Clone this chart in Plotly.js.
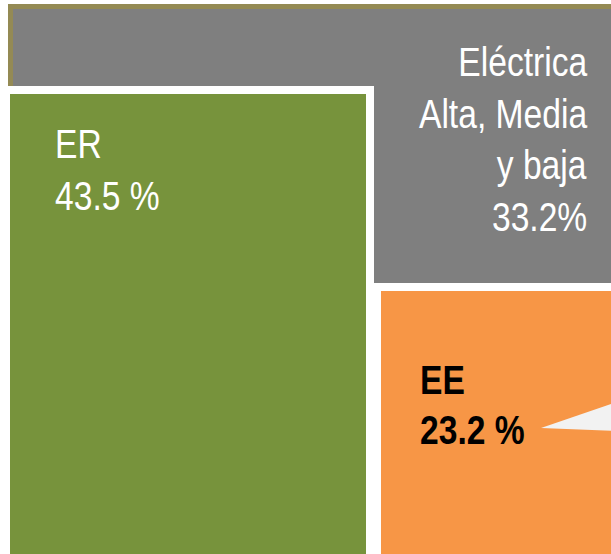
<!DOCTYPE html>
<html>
<head>
<meta charset="utf-8">
<script src="https://cdn.plot.ly/plotly-3.0.1.min.js"></script>
<style>html,body{margin:0;padding:0;background:#fff;}#chart{width:611px;height:554px;}</style>
</head>
<body>
<div id="chart"></div>
<script>
// Data
const categories = ['ER', 'Eléctrica<br>Alta, Media<br>y baja', 'EE'];
const values = [43.5, 33.2, 23.2];
const valueSuffix = [' %', '%', ' %'];

// Layout geometry (pixel-like axis units, y reversed)
const boxes = [
  {x0: 10, x1: 366, y0: 94, y1: 560, fill: '#77933c'},   // ER
  {x0: 13, x1: 620, y0: 9, y1: 290, fill: '#7f7f7f'},    // Eléctrica
  {x0: 381, x1: 620, y0: 291, y1: 560, fill: '#f79646'}  // EE
];
// x anchor and baseline of the first line, line step
const labelPos = [
  {x: 53, y: 157, step: 52, anchor: 'left', color: '#ffffff', bold: false},
  {x: 589, y: 75, step: 51.7, anchor: 'right', color: '#ffffff', bold: false},
  {x: 418, y: 393, step: 50, anchor: 'left', color: '#000000', bold: true}
];
const FONT = '"Liberation Sans", Arial, sans-serif';
const FSIZE = 41;
const SQUEEZE = 0.82;

const shapes = [];
shapes.push({type: 'rect', xref: 'x', yref: 'y', x0: 8, x1: 620, y0: 4, y1: 290,
  fillcolor: '#948a54', line: {width: 0}, layer: 'below'});
shapes.push({type: 'rect', xref: 'x', yref: 'y', x0: boxes[1].x0, x1: boxes[1].x1, y0: boxes[1].y0, y1: boxes[1].y1,
  fillcolor: boxes[1].fill, line: {width: 0}, layer: 'below'});
shapes.push({type: 'rect', xref: 'x', yref: 'y', x0: -5, x1: 374, y0: 86, y1: 560,
  fillcolor: '#ffffff', line: {width: 0}, layer: 'below'});
shapes.push({type: 'rect', xref: 'x', yref: 'y', x0: boxes[0].x0, x1: boxes[0].x1, y0: boxes[0].y0, y1: boxes[0].y1,
  fillcolor: boxes[0].fill, line: {width: 0}, layer: 'below'});
shapes.push({type: 'rect', xref: 'x', yref: 'y', x0: 373, x1: 620, y0: 283, y1: 560,
  fillcolor: '#ffffff', line: {width: 0}, layer: 'below'});
shapes.push({type: 'rect', xref: 'x', yref: 'y', x0: boxes[2].x0, x1: boxes[2].x1, y0: boxes[2].y0, y1: boxes[2].y1,
  fillcolor: boxes[2].fill, line: {width: 0}, layer: 'below'});
shapes.push({type: 'path', xref: 'x', yref: 'y', path: 'M 541 428 L 620 401 L 620 431 Z',
  fillcolor: '#f2f2f2', line: {width: 0}, layer: 'below'});

const annotations = [];
categories.forEach((c, i) => {
  const p = labelPos[i];
  const lines = c.split('<br>').concat([values[i].toFixed(1) + valueSuffix[i]]);
  lines.forEach((ln, j) => {
    annotations.push({
      xref: 'x', yref: 'y', x: p.x, y: p.y + j * p.step - 0.32 * FSIZE,
      xanchor: p.anchor, yanchor: 'middle', align: p.anchor,
      text: p.bold ? '<b>' + ln + '</b>' : ln, showarrow: false,
      font: {family: FONT, size: FSIZE, color: p.color}
    });
  });
});

const layout = {
  width: 611, height: 554,
  margin: {l: 0, r: 0, t: 0, b: 0},
  paper_bgcolor: '#ffffff', plot_bgcolor: '#ffffff',
  xaxis: {range: [0, 611], visible: false, fixedrange: true},
  yaxis: {range: [554, 0], visible: false, fixedrange: true},
  shapes: shapes,
  annotations: annotations,
  showlegend: false
};

Plotly.newPlot('chart', [{x: [], y: [], type: 'scatter', mode: 'markers', hoverinfo: 'skip'}], layout, {staticPlot: true, displayModeBar: false})
  .then(gd => {
    // emulate a narrow typeface by squeezing the label text horizontally
    gd.querySelectorAll('.annotation').forEach((g, k) => {
      const t = g.querySelector('text.annotation-text');
      if (!t) return;
      const anchor = annotations[k].xanchor;
      t.style.transformBox = 'fill-box';
      t.style.transformOrigin = anchor === 'right' ? 'right center' : 'left center';
      t.style.transform = 'scaleX(' + SQUEEZE + ')';
    });
  });
</script>
</body>
</html>
